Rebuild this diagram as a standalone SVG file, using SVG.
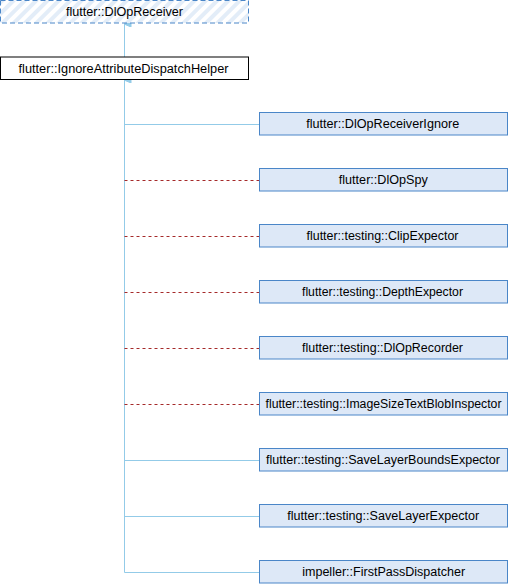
<svg xmlns="http://www.w3.org/2000/svg" width="508" height="584" viewBox="0 0 508 584">
<style>
text{font-family:"Liberation Sans",Arial,sans-serif;font-size:12px;fill:#000;text-anchor:middle}
.child rect{fill:#dde8f7;stroke:#4a86c8;stroke-width:1}
.inh{stroke:#93cbe8;stroke-width:1;fill:none}
.use{stroke:#a52a2a;stroke-width:1;stroke-dasharray:3,3;fill:none}
</style>
<defs>
<pattern id="hatch" patternUnits="userSpaceOnUse" width="8" height="8" patternTransform="rotate(45)">
<rect width="8" height="8" fill="#ffffff"/>
<rect width="4" height="8" fill="#e3edf8"/>
</pattern>
<marker id="arr" markerWidth="6" markerHeight="8" refX="3" refY="0.5" orient="auto-start-reverse" markerUnits="userSpaceOnUse">
<path d="M3,0 L6,7 L0,7 Z" fill="#93cbe8" stroke="#93cbe8" stroke-width="1"/>
</marker>
</defs>
<g id="connectors">
<line class="inh" x1="124.5" y1="57" x2="124.5" y2="24"/>
<path class="inh" d="M124.5,80 L124.5,572.5 L259.5,572.5"/>
<path d="M124.5,86 L124.5,80" class="inh" marker-end="url(#arr)"/>
<line class="inh" x1="124.5" y1="24" x2="124.5" y2="30" marker-start="url(#arr)"/>
<line class="inh" x1="124.5" y1="124.5" x2="259.5" y2="124.5"/>
<line class="use" x1="124.5" y1="180.5" x2="259.5" y2="180.5"/>
<line class="use" x1="124.5" y1="236.5" x2="259.5" y2="236.5"/>
<line class="use" x1="124.5" y1="292.5" x2="259.5" y2="292.5"/>
<line class="use" x1="124.5" y1="348.5" x2="259.5" y2="348.5"/>
<line class="use" x1="124.5" y1="404.5" x2="259.5" y2="404.5"/>
<line class="inh" x1="124.5" y1="460.5" x2="259.5" y2="460.5"/>
<line class="inh" x1="124.5" y1="516.5" x2="259.5" y2="516.5"/>
</g>
<g id="DlOpReceiver">
<rect x="0.5" y="0.5" width="248" height="22.5" fill="url(#hatch)" stroke="#4a86c8" stroke-dasharray="5,3"/>
<text x="124.5" y="15.5" textLength="117" lengthAdjust="spacingAndGlyphs">flutter::DlOpReceiver</text>
</g>
<g id="IgnoreAttributeDispatchHelper">
<rect x="0.5" y="57" width="248" height="22.5" fill="#ffffff" stroke="#000000"/>
<text x="123.5" y="72.5" textLength="210" lengthAdjust="spacingAndGlyphs">flutter::IgnoreAttributeDispatchHelper</text>
</g>
<g id="DlOpReceiverIgnore" class="child"><rect x="259.5" y="112.5" width="248" height="22.5"/><text x="382.7" y="128" textLength="153" lengthAdjust="spacingAndGlyphs">flutter::DlOpReceiverIgnore</text></g>
<g id="DlOpSpy" class="child"><rect x="259.5" y="168.5" width="248" height="22.5"/><text x="383.3" y="184" textLength="89" lengthAdjust="spacingAndGlyphs">flutter::DlOpSpy</text></g>
<g id="ClipExpector" class="child"><rect x="259.5" y="224.5" width="248" height="22.5"/><text x="382.5" y="240" textLength="152" lengthAdjust="spacingAndGlyphs">flutter::testing::ClipExpector</text></g>
<g id="DepthExpector" class="child"><rect x="259.5" y="280.5" width="248" height="22.5"/><text x="382.5" y="296" textLength="161" lengthAdjust="spacingAndGlyphs">flutter::testing::DepthExpector</text></g>
<g id="DlOpRecorder" class="child"><rect x="259.5" y="336.5" width="248" height="22.5"/><text x="382.5" y="352" textLength="161" lengthAdjust="spacingAndGlyphs">flutter::testing::DlOpRecorder</text></g>
<g id="ImageSizeTextBlobInspector" class="child"><rect x="259.5" y="392.5" width="248" height="22.5"/><text x="383.5" y="408" textLength="236" lengthAdjust="spacingAndGlyphs">flutter::testing::ImageSizeTextBlobInspector</text></g>
<g id="SaveLayerBoundsExpector" class="child"><rect x="259.5" y="448.5" width="248" height="22.5"/><text x="383" y="464" textLength="234" lengthAdjust="spacingAndGlyphs">flutter::testing::SaveLayerBoundsExpector</text></g>
<g id="SaveLayerExpector" class="child"><rect x="259.5" y="504.5" width="248" height="22.5"/><text x="383.2" y="520" textLength="192" lengthAdjust="spacingAndGlyphs">flutter::testing::SaveLayerExpector</text></g>
<g id="FirstPassDispatcher" class="child"><rect x="259.5" y="560.5" width="248" height="22.5"/><text x="383.7" y="576" textLength="163" lengthAdjust="spacingAndGlyphs">impeller::FirstPassDispatcher</text></g>
</svg>
